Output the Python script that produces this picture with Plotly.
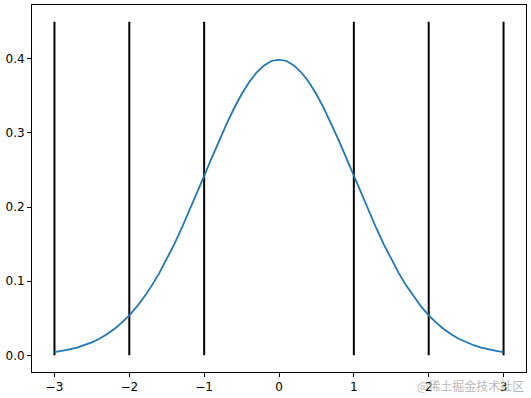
import plotly.graph_objects as go

# Curve values (standard normal density shape)
half_y = [0.3989, 0.3970, 0.3910, 0.3814, 0.3683, 0.3521, 0.3332, 0.3123, 0.2897, 0.2661,
          0.2420, 0.2179, 0.1942, 0.1714, 0.1497, 0.1295, 0.1109, 0.0940, 0.0790, 0.0656,
          0.0540, 0.0440, 0.0355, 0.0283, 0.0224, 0.0175, 0.0136, 0.0104, 0.0079, 0.0060,
          0.0044]
half_x = [0.0, 0.1, 0.2, 0.3, 0.4, 0.5, 0.6, 0.7, 0.8, 0.9,
          1.0, 1.1, 1.2, 1.3, 1.4, 1.5, 1.6, 1.7, 1.8, 1.9,
          2.0, 2.1, 2.2, 2.3, 2.4, 2.5, 2.6, 2.7, 2.8, 2.9,
          3.0]
curve_x = [-v for v in half_x[::-1]] + half_x[1:]
curve_y = half_y[::-1] + half_y[1:]

# Vertical lines
vline_x = [-3, -2, -1, 1, 2, 3]
vline_ymin = 0.0
vline_ymax = 0.45

x_ticks = [-3, -2, -1, 0, 1, 2, 3]
y_ticks = [0.0, 0.1, 0.2, 0.3, 0.4]

vx, vy = [], []
for xv in vline_x:
    vx += [xv, xv, None]
    vy += [vline_ymin, vline_ymax, None]

fig = go.Figure()
fig.add_trace(go.Scatter(x=vx, y=vy, mode="lines",
                         line=dict(color="black", width=2), hoverinfo="skip"))
fig.add_trace(go.Scatter(x=curve_x, y=curve_y, mode="lines",
                         line=dict(color="#1f77b4", width=1.8)))

axis_common = dict(showline=True, linecolor="black", linewidth=1, mirror=True,
                   showgrid=False, zeroline=False, ticks="outside", ticklen=4,
                   tickwidth=1, tickcolor="black",
                   tickfont=dict(family="DejaVu Sans", size=12, color="black"))

fig.update_layout(
    width=531, height=398,
    margin=dict(l=32, r=4, t=5, b=24),
    paper_bgcolor="white", plot_bgcolor="white",
    showlegend=False,
    xaxis=dict(range=[-3.3, 3.3], tickvals=x_ticks, **axis_common),
    yaxis=dict(range=[-0.0225, 0.4725], tickvals=y_ticks, tickformat=".1f", **axis_common),
)

fig.add_annotation(text="@稀土掘金技术社区", xref="paper", yref="paper",
                   x=1.0, y=-0.036, xanchor="right", yanchor="middle", showarrow=False,
                   font=dict(family="Noto Sans CJK SC", size=12, color="rgba(170,170,170,0.85)"))

fig.write_html("out.html")
